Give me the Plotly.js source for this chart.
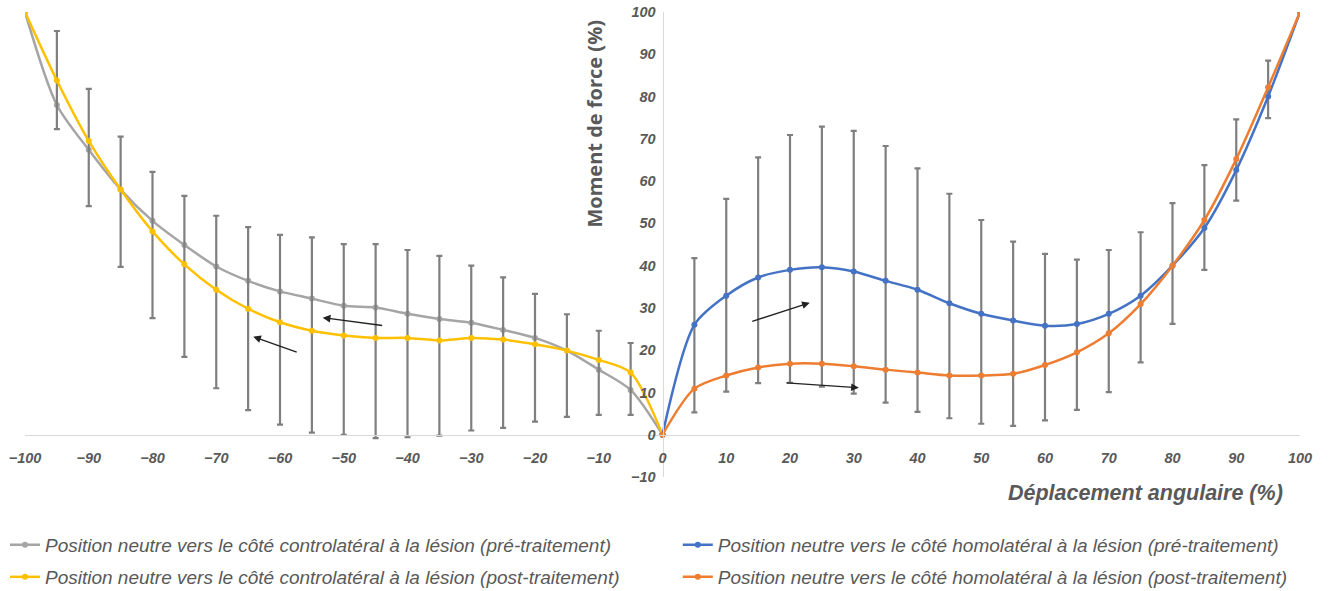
<!DOCTYPE html>
<html>
<head>
<meta charset="utf-8">
<script src="https://cdn.plot.ly/plotly-3.0.1.min.js"></script>
<style>html,body{margin:0;padding:0;background:#fff;}#chart{width:1333px;height:591px;}</style>
</head>
<body>
<div id="chart"></div>
<script>
// Left side: neutral position toward contralateral side
const xLeft = [-100,-95,-90,-85,-80,-75,-70,-65,-60,-55,-50,-45,-40,-35,-30,-25,-20,-15,-10,-5,0];
const contraPre  = [100,78,67.4,58,50.6,44.9,39.8,36.4,33.9,32.2,30.5,30.1,28.6,27.4,26.5,24.8,22.9,19.9,15.4,10.6,0];
const contraPost = [100,83.8,69.5,58,48.1,40.3,34.3,29.8,26.6,24.6,23.5,22.9,22.9,22.3,22.9,22.5,21.4,19.9,17.7,14.7,0];
const contraUpper = [100,95.5,81.8,70.5,62.2,56.5,51.8,49.1,47.3,46.7,45.1,45.1,43.7,42.3,40.0,37.2,33.3,28.5,24.6,21.7,0];
const contraLower = [100,72.3,54.1,39.7,27.6,18.4,11.0,5.8,2.4,0.5,0,-0.8,-0.6,-0.2,1.0,1.6,3.1,4.2,4.7,4.7,0];

// Right side: neutral position toward homolateral side
const xRight = [0,5,10,15,20,25,30,35,40,45,50,55,60,65,70,75,80,85,90,95,100];
const homoPre  = [0,26.0,32.9,37.2,39.0,39.6,38.6,36.4,34.3,31.1,28.6,27.0,25.8,26.2,28.6,32.9,40.0,48.9,62.6,80.0,100];
const homoPost = [0,10.9,14.0,15.9,16.8,16.8,16.2,15.4,14.7,14.0,14.0,14.4,16.5,19.5,24.0,30.9,40.0,50.8,65.2,82.2,100];
const homoUpper = [0,41.8,55.8,65.6,70.9,72.9,71.9,68.3,63.0,57.0,50.8,45.7,42.8,41.4,43.7,47.9,54.8,63.8,74.6,88.5,100];
const homoLower = [0,5.3,10.2,12.2,12.3,11.4,9.7,7.6,5.4,3.9,2.6,2.1,3.4,5.9,10.1,17.1,26.2,39.0,55.4,74.9,100];

const names = [
  "Position neutre vers le côté controlatéral à la lésion (pré-traitement)",
  "Position neutre vers le côté controlatéral à la lésion (post-traitement)",
  "Position neutre vers le côté homolatéral à la lésion (pré-traitement)",
  "Position neutre vers le côté homolatéral à la lésion (post-traitement)"
];
const colors = ["#A5A5A5","#FFC000","#4472C4","#ED7D31"];

// decorative arrows: [x, y, ax, ay]
const arrows = [[-53.3,27.7,61,8],[-64.2,23.2,45,16],[23.1,31.2,-59,19],[30.8,11.1,-74,-5]];

const diff = (a,b) => a.map((v,i)=>Math.max(0,v-b[i]));
const errStyle = {color:"#7F7F7F", thickness:2.2, width:3};

function line(x,y,i,legend){
  return {x:x,y:y,type:"scatter",mode:"lines+markers",name:names[i],legend:legend,
    line:{color:colors[i],width:2.5,shape:"spline",smoothing:0.8},
    marker:{color:colors[i],size:6}};
}
const tGray = line(xLeft,contraPre,0,"legend");
const tYel = line(xLeft,contraPost,1,"legend2");
tYel.error_y = Object.assign({type:"data",symmetric:false,array:diff(contraUpper,contraPost),arrayminus:diff(contraPost,contraLower)},errStyle);
const tBlue = line(xRight,homoPre,2,"legend3");
tBlue.error_y = Object.assign({type:"data",symmetric:false,array:diff(homoUpper,homoPre),arrayminus:diff(homoPre,homoLower)},errStyle);
const tOr = line(xRight,homoPost,3,"legend4");

const tickFont = {family:"Liberation Sans, Arial, sans-serif",size:14.5,color:"#595959",style:"italic",weight:"bold"};
const legFont = {family:"Liberation Sans, Arial, sans-serif",size:19,color:"#595959",style:"italic"};

const annotations = arrows.map(a=>({x:a[0],y:a[1],ax:a[2],ay:a[3],xref:"x",yref:"y",showarrow:true,
  arrowhead:2,arrowsize:1.1,arrowwidth:1.4,arrowcolor:"#222",text:""}));
annotations.push({text:"Moment de force (%)",xref:"paper",yref:"paper",x:0.447,y:0.76,textangle:-90,showarrow:false,
  font:{family:"Open Sans, sans-serif",size:20,color:"#595959",weight:"bold"},xanchor:"center",yanchor:"middle"});
annotations.push({text:"Déplacement angulaire (%)",xref:"paper",yref:"paper",x:0.988,y:-0.034,showarrow:false,
  font:{family:"Liberation Sans, Arial, sans-serif",size:21.5,color:"#595959",weight:"bold",style:"italic"},xanchor:"right",yanchor:"middle"});

const legBase = {orientation:"h",xanchor:"left",yanchor:"middle",font:legFont,bgcolor:"rgba(0,0,0,0)",itemclick:false};
const col1 = -0.0157, col2 = 0.512, row1 = -0.146, row2 = -0.215;

const layout = {
  width:1333,height:591,
  margin:{l:25,r:33,t:12,b:114,autoexpand:false},
  paper_bgcolor:"#fff",plot_bgcolor:"#fff",
  xaxis:{range:[-100,100],tickvals:[-100,-90,-80,-70,-60,-50,-40,-30,-20,-10,0,10,20,30,40,50,60,70,80,90,100],
    anchor:"free",position:10/110,showline:true,linecolor:"#D9D9D9",linewidth:1.3,showgrid:false,zeroline:false,
    ticks:"outside",ticklen:10,tickcolor:"rgba(0,0,0,0)",tickfont:tickFont},
  yaxis:{range:[-10,100],dtick:10,anchor:"free",position:0.5,showline:true,linecolor:"#D9D9D9",linewidth:1.3,
    showgrid:false,zeroline:false,ticks:"outside",ticklen:4,tickcolor:"rgba(0,0,0,0)",tickfont:tickFont},
  showlegend:true,
  legend:Object.assign({},legBase,{x:col1,y:row1}),
  legend2:Object.assign({},legBase,{x:col1,y:row2}),
  legend3:Object.assign({},legBase,{x:col2,y:row1}),
  legend4:Object.assign({},legBase,{x:col2,y:row2}),
  annotations:annotations
};

Plotly.newPlot("chart",[tGray,tYel,tBlue,tOr],layout,{displayModeBar:false,staticPlot:true});
</script>
</body>
</html>
